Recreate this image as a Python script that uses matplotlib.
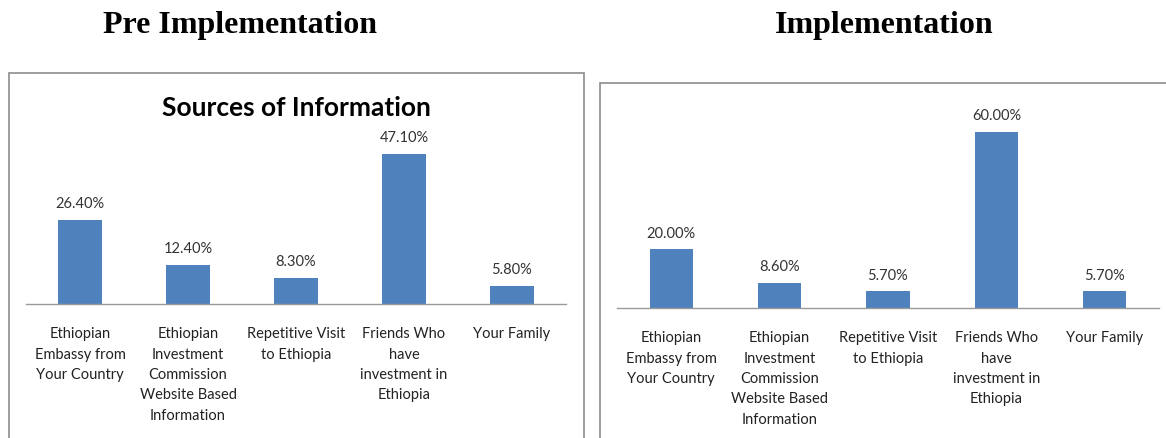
import numpy as np
import matplotlib.pyplot as plt
from matplotlib.patches import Rectangle

# Источники информации
categories = [
    "Ethiopian\nEmbassy from\nYour Country",
    "Ethiopian\nInvestment\nCommission\nWebsite Based\nInformation",
    "Repetitive Visit\nto Ethiopia",
    "Friends Who\nhave\ninvestment in\nEthiopia",
    "Your Family",
]
pre_values = [26.4, 12.4, 8.3, 47.1, 5.8]
impl_values = [20.0, 8.6, 5.7, 60.0, 5.7]

W, H = 1166, 439
fig = plt.figure(figsize=(W / 100, H / 100), dpi=100)
fig.patch.set_facecolor('white')

body_font = 'Lato'
bar_color = '#4F81BD'


def px_axes(x0, x1, y_top, y_bottom):
    # перевод пикселей в доли фигуры
    return fig.add_axes([x0 / W, 1 - y_bottom / H, (x1 - x0) / W, (y_bottom - y_top) / H])


def draw_panel(ax, values, ymax):
    x = np.arange(len(values))
    ax.bar(x, values, width=0.4, color=bar_color)
    ax.set_xlim(-0.5, len(values) - 0.5)
    ax.set_ylim(0, ymax)
    for xi, v in zip(x, values):
        ax.annotate(f"{v:.2f}%", (xi, v), xytext=(0, 7), textcoords='offset points',
                    ha='center', va='bottom', fontsize=10.5, family=body_font,
                    color='#333333', annotation_clip=False)
    for xi, lab in zip(x, categories):
        ax.annotate(lab, (xi, 0), xytext=(0, -16), textcoords='offset points',
                    ha='center', va='top', fontsize=10.5, family=body_font,
                    color='#222222', linespacing=1.58, annotation_clip=False)
    for s in ['top', 'right', 'left']:
        ax.spines[s].set_visible(False)
    ax.spines['bottom'].set_color('#999999')
    ax.spines['bottom'].set_linewidth(1.0)
    ax.set_xticks([])
    ax.set_yticks([])
    ax.patch.set_alpha(0)


# Рамки панелей
fig.patches.append(Rectangle((9 / W, -0.1), (584 - 9) / W, 1.1 - 74 / H,
                             transform=fig.transFigure, fill=False,
                             edgecolor='#8c8c8c', linewidth=1.2))
fig.patches.append(Rectangle((600 / W, -0.1), 1.1 - 600 / W, 1.1 - 84 / H,
                             transform=fig.transFigure, fill=False,
                             edgecolor='#8c8c8c', linewidth=1.2))

# Заголовки
fig.text(240 / W, 1 - 25 / H, "Pre Implementation", ha='center', va='center',
         fontsize=23, fontweight='bold', family='Liberation Serif')
fig.text(884 / W, 1 - 25 / H, "Implementation", ha='center', va='center',
         fontsize=23, fontweight='bold', family='Liberation Serif')
fig.text(296 / W, 1 - 108 / H, "Sources of Information", ha='center', va='center',
         fontsize=19, fontweight='bold', family=body_font)

ax1 = px_axes(26, 566, 305 - 50 * 3.185, 305)
draw_panel(ax1, pre_values, 50)

ax2 = px_axes(617, 1159, 309 - 65 * 2.933, 309)
draw_panel(ax2, impl_values, 65)

fig.savefig('out.png', dpi=100)
